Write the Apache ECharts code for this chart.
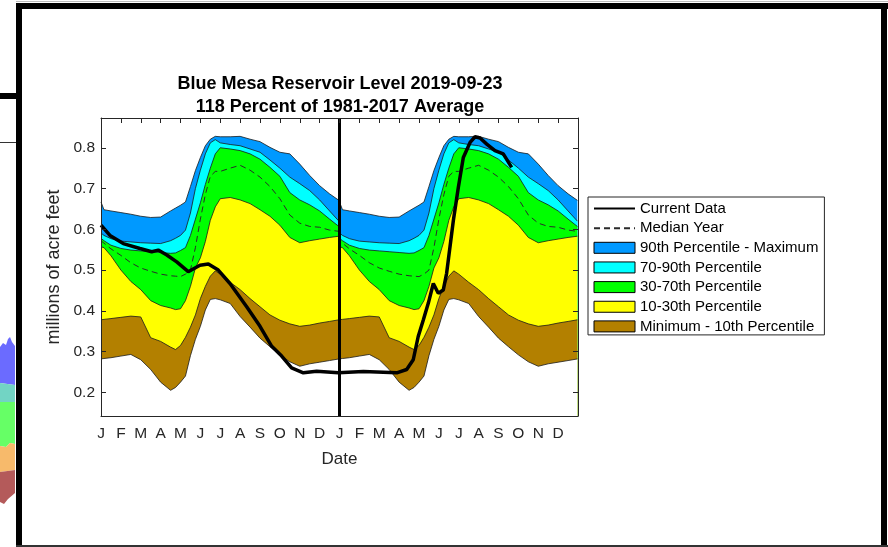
<!DOCTYPE html>
<html><head><meta charset="utf-8">
<script src="https://cdn.jsdelivr.net/npm/echarts@6/dist/echarts.min.js"></script>
<style>html,body{margin:0;padding:0;background:#fff}#c{width:888px;height:547px}</style>
</head><body><div id="c"></div>
<script>
// ---- data ----
const monthLetters = ['J','F','M','A','M','J','J','A','S','O','N','D'];
const yearOffsets = [0, 12];
// position within a year, in months from Jan 1
const monthPos = [0, 0.15, 0.5, 1, 1.5, 2, 2.5, 3, 3.5, 3.75, 4, 4.25, 4.5, 4.75, 5, 5.25, 5.5, 5.75, 6, 6.5, 7, 7.5, 8, 8.5, 9, 9.5, 10, 10.5, 11, 11.5, 11.97];
const maxLevel = [0.667, 0.648, 0.645, 0.641, 0.637, 0.632, 0.629, 0.630, 0.645, 0.652, 0.659, 0.667, 0.705, 0.744, 0.776, 0.805, 0.821, 0.828, 0.827, 0.827, 0.828, 0.821, 0.815, 0.801, 0.789, 0.785, 0.760, 0.732, 0.707, 0.687, 0.671];
const p90 = [0.591, 0.585, 0.577, 0.571, 0.569, 0.567, 0.566, 0.565, 0.572, 0.578, 0.585, 0.598, 0.640, 0.700, 0.745, 0.785, 0.812, 0.820, 0.812, 0.808, 0.805, 0.797, 0.789, 0.770, 0.750, 0.728, 0.712, 0.695, 0.672, 0.645, 0.620];
const p70 = [0.578, 0.572, 0.561, 0.553, 0.549, 0.547, 0.545, 0.543, 0.541, 0.542, 0.548, 0.555, 0.585, 0.625, 0.665, 0.710, 0.750, 0.785, 0.800, 0.797, 0.793, 0.785, 0.772, 0.752, 0.730, 0.690, 0.672, 0.660, 0.645, 0.625, 0.607];
const p30 = [0.557, 0.555, 0.535, 0.500, 0.472, 0.452, 0.425, 0.413, 0.407, 0.403, 0.405, 0.425, 0.460, 0.505, 0.530, 0.570, 0.622, 0.655, 0.675, 0.678, 0.672, 0.663, 0.648, 0.632, 0.610, 0.580, 0.567, 0.572, 0.576, 0.580, 0.583];
const p10 = [0.378, 0.379, 0.381, 0.384, 0.387, 0.385, 0.334, 0.325, 0.311, 0.305, 0.315, 0.335, 0.360, 0.390, 0.430, 0.460, 0.485, 0.498, 0.490, 0.470, 0.452, 0.430, 0.410, 0.390, 0.377, 0.368, 0.362, 0.365, 0.370, 0.374, 0.378];
const minLevel = [0.282, 0.283, 0.285, 0.289, 0.293, 0.280, 0.256, 0.225, 0.205, 0.212, 0.225, 0.240, 0.290, 0.330, 0.362, 0.402, 0.428, 0.430, 0.427, 0.418, 0.386, 0.360, 0.333, 0.312, 0.292, 0.275, 0.264, 0.270, 0.274, 0.278, 0.282];
const medianLevel = [0.572, 0.566, 0.552, 0.536, 0.518, 0.505, 0.497, 0.490, 0.486, 0.485, 0.484, 0.490, 0.500, 0.555, 0.625, 0.685, 0.730, 0.742, 0.742, 0.750, 0.757, 0.745, 0.728, 0.705, 0.675, 0.635, 0.615, 0.607, 0.605, 0.598, 0.595];
// current data, months since Jan 1 of first year
const currentMonths = [0, 0.45, 1.12, 1.96, 2.55, 2.88, 3.31, 3.81, 4.39, 4.98, 5.4, 5.9, 6.49, 7.33, 8.0, 8.59, 9.09, 9.59, 10.18, 10.85, 11.94, 13.2, 14.88, 15.38, 15.71, 15.96, 16.22, 16.47, 16.72, 16.97, 17.22, 17.39, 17.73, 17.98, 18.23, 18.57, 18.82, 19.07, 19.41, 19.82, 20.24, 20.66];
const currentLevel = [0.61, 0.585, 0.565, 0.553, 0.545, 0.549, 0.537, 0.52, 0.496, 0.512, 0.515, 0.50, 0.467, 0.41, 0.362, 0.313, 0.289, 0.26, 0.248, 0.252, 0.248, 0.251, 0.248, 0.256, 0.28, 0.337, 0.378, 0.419, 0.467, 0.443, 0.451, 0.492, 0.622, 0.703, 0.776, 0.813, 0.827, 0.824, 0.809, 0.793, 0.785, 0.752];
const yearBoundary = 12;

// ---- build ----
function twoYears(vals) {
  const out = [];
  yearOffsets.forEach(off => monthPos.forEach((m, i) => out.push([m + off, vals[i]])));
  return out;
}
const FONT = 'Liberation Sans, Arial, Helvetica, sans-serif';
const TXT = '#262626';
const EDGE = '#1a1a1a';
function band(name, vals, color, z) {
  return {
    name, type: 'line', data: twoYears(vals), z,
    symbol: 'none', smooth: false, silent: true,
    color: color,
    itemStyle: { color: color },
    lineStyle: { color: EDGE, width: 0.8 },
    areaStyle: { color: color, opacity: 1, origin: 'start' }
  };
}
const bands = [
  band('90th Percentile - Maximum', maxLevel, '#0099ff', 2),
  band('70-90th Percentile', p90, '#00ffff', 3),
  band('30-70th Percentile', p70, '#00ff00', 4),
  band('10-30th Percentile', p30, '#ffff00', 5),
  band('Minimum - 10th Percentile', p10, '#b38000', 6),
  band('below minimum', minLevel, '#ffffff', 7)
];

const chart = echarts.init(document.getElementById('c'), null, { renderer: 'canvas' });
const legendRect = n => ({ name: n, icon: 'rect', itemStyle: { borderColor: '#000', borderWidth: 1 } });
const legendLine = n => ({ name: n, itemStyle: { color: 'rgba(0,0,0,0)', borderWidth: 0, opacity: 0 } });
const option = {
  backgroundColor: '#ffffff',
  animation: false,
  textStyle: { fontFamily: FONT },
  title: {
    text: 'Blue Mesa Reservoir Level 2019-09-23\n118 Percent of 1981-2017 Average',
    left: 335, top: 68, textAlign: 'center',
    textStyle: { fontFamily: FONT, fontSize: 18, fontWeight: 'bold', lineHeight: 23, color: '#000' }
  },
  grid: { left: 101, right: 310, top: 118, bottom: 131, containLabel: false },
  legend: {
    orient: 'vertical', left: 588, top: 197,
    padding: [4, 6, 1, 5], itemGap: 4.65, itemWidth: 41, itemHeight: 11,
    borderColor: '#262626', borderWidth: 1, backgroundColor: '#fff',
    selectedMode: false,
    textStyle: { fontFamily: FONT, fontSize: 15, color: '#000', lineHeight: 13 },
    data: [
      legendLine('Current Data'), legendLine('Median Year'),
      legendRect('90th Percentile - Maximum'), legendRect('70-90th Percentile'),
      legendRect('30-70th Percentile'), legendRect('10-30th Percentile'),
      legendRect('Minimum - 10th Percentile')
    ]
  },
  xAxis: [
    {
      type: 'value', min: 0, max: 24, interval: 1, position: 'bottom', z: 20,
      axisLine: { show: true, onZero: false, lineStyle: { color: TXT, width: 1 } },
      axisTick: { show: false }, splitLine: { show: false },
      axisLabel: { fontSize: 15.5, color: TXT, margin: 10, fontFamily: FONT,
        formatter: v => (v < 24 ? monthLetters[Math.round(v) % 12] : '') },
      name: 'Date', nameLocation: 'middle', nameGap: 35,
      nameTextStyle: { fontSize: 17, color: TXT, fontFamily: FONT }
    },
    {
      type: 'value', min: 0, max: 24, interval: 1, position: 'top', z: 20,
      axisLine: { show: true, onZero: false, lineStyle: { color: TXT, width: 1 } },
      axisTick: { show: true, inside: true, length: 5, lineStyle: { color: TXT } },
      axisLabel: { show: false }, splitLine: { show: false }
    }
  ],
  yAxis: [
    {
      type: 'value', min: 0.142, max: 0.873, splitNumber: 7, position: 'left', z: 20,
      axisLine: { show: true, onZero: false, lineStyle: { color: TXT, width: 1 } },
      axisTick: { show: true, inside: true, length: 5, lineStyle: { color: TXT } },
      splitLine: { show: false },
      axisLabel: { fontSize: 15.5, color: TXT, margin: 6, fontFamily: FONT, showMinLabel: false, showMaxLabel: false,
        formatter: v => (Math.abs(v * 10 - Math.round(v * 10)) < 1e-6 ? v.toFixed(1) : '') },
      name: 'millions of acre feet', nameLocation: 'middle', nameGap: 35,
      nameTextStyle: { fontSize: 18, color: TXT, fontFamily: FONT }
    },
    {
      type: 'value', min: 0.142, max: 0.873, splitNumber: 7, position: 'right', z: 20,
      axisLine: { show: true, onZero: false, lineStyle: { color: TXT, width: 1 } },
      axisTick: { show: true, inside: true, length: 5, lineStyle: { color: TXT } },
      splitLine: { show: false }, axisLabel: { show: false }
    }
  ],
  series: bands.concat([
    {
      name: 'Median Year', type: 'line', z: 8, symbol: 'none', silent: true,
      data: twoYears(medianLevel),
      color: '#333',
      lineStyle: { color: '#2a2a2a', width: 1, type: [6, 4] }
    },
    {
      name: 'Current Data', type: 'line', z: 9, symbol: 'none', silent: true,
      data: currentMonths.map((m, i) => [m, currentLevel[i]]),
      color: '#000',
      lineStyle: { color: '#000', width: 3.5 },
      markLine: {
        silent: true, z: 15, symbol: ['none', 'none'], label: { show: false },
        lineStyle: { color: '#000', width: 3, type: 'solid' },
        data: [{ xAxis: yearBoundary }]
      }
    }
  ]),
  graphic: [
    { type: 'rect', shape: { x: 16, y: 1, width: 872, height: 1 }, style: { fill: '#bbbbbb' }, z: 100 },
    { type: 'rect', shape: { x: 16, y: 3, width: 872, height: 6 }, style: { fill: '#000' }, z: 100 },
    { type: 'rect', shape: { x: 16, y: 3, width: 6, height: 544 }, style: { fill: '#000' }, z: 100 },
    { type: 'rect', shape: { x: 881, y: 3, width: 6, height: 543 }, style: { fill: '#000' }, z: 100 },
    { type: 'rect', shape: { x: 16, y: 545, width: 872, height: 2 }, style: { fill: '#333' }, z: 100 },
    { type: 'rect', shape: { x: 0, y: 93, width: 16, height: 6 }, style: { fill: '#000' }, z: 100 },
    { type: 'rect', shape: { x: 0, y: 142, width: 16, height: 1 }, style: { fill: '#333' }, z: 100 },
    { type: 'polygon', shape: { points: [[0,347],[3,343],[6,345],[8,339],[10,337],[12,342],[15,346],[15,385],[0,383]] }, style: { fill: '#6b6bff' }, z: 100 },
    { type: 'polygon', shape: { points: [[0,383],[15,385],[15,402],[0,402]] }, style: { fill: '#72d4c4' }, z: 100 },
    { type: 'polygon', shape: { points: [[0,402],[15,402],[15,444],[10,443],[6,447],[0,446]] }, style: { fill: '#66ff66' }, z: 100 },
    { type: 'polygon', shape: { points: [[0,446],[6,447],[10,443],[15,444],[15,470],[0,472]] }, style: { fill: '#f7ba6b' }, z: 100 },
    { type: 'polygon', shape: { points: [[0,472],[15,470],[15,493],[8,499],[4,504],[0,502]] }, style: { fill: '#b45a5a' }, z: 100 }
  ]
};
chart.setOption(option);
</script>
</body></html>
